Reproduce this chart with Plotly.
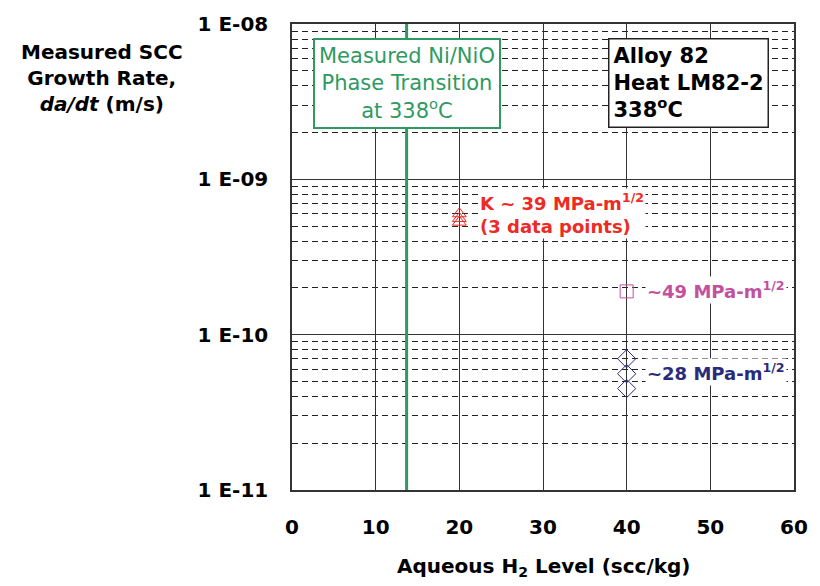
import plotly.graph_objects as go

# Data
k39_x = [20, 20, 20]
k39_y = [6.0e-10, 5.6e-10, 5.3e-10]
k49_x = [40]
k49_y = [1.9e-10]
k28_x = [40, 40, 40]
k28_y = [7.0e-11, 5.6e-11, 4.5e-11]
transition_h2 = 13.7
x_ticks = [0, 10, 20, 30, 40, 50, 60]
y_tickvals = [1e-11, 1e-10, 1e-9, 1e-8]
y_ticktext = ["1 E-11", "1 E-10", "1 E-09", "1 E-08"]

FONT = "DejaVu Sans"
RED = "#ee2a24"
MAG = "#c3509f"
NAVY = "#2a2a7c"
GREEN = "#2e9a62"

fig = go.Figure()
fig.add_trace(go.Scatter(x=k39_x, y=k39_y, mode="markers",
                         marker=dict(symbol="triangle-up-open", size=12, color=RED, line=dict(width=1))))
fig.add_trace(go.Scatter(x=k49_x, y=k49_y, mode="markers",
                         marker=dict(symbol="square-open", size=13, color=MAG, line=dict(width=1))))
fig.add_trace(go.Scatter(x=k28_x, y=k28_y, mode="markers",
                         marker=dict(symbol="diamond-open", size=14, color=NAVY, line=dict(width=1))))

fig.add_vline(x=transition_h2, line=dict(color=GREEN, width=3), layer="above")

minor_vals = [k * 10.0 ** e for e in range(-11, -8) for k in range(2, 10)]

fig.update_layout(
    width=820, height=586,
    margin=dict(l=292, r=20, t=19, b=96),
    plot_bgcolor="white", paper_bgcolor="white",
    showlegend=False,
    font=dict(family=FONT, color="black", size=20),
    xaxis=dict(range=[0, 60], tickvals=x_ticks, showgrid=True, gridcolor="#333333", gridwidth=1,
               showline=True, linecolor="#333333", linewidth=1.5, mirror=True, zeroline=False,
               tickfont=dict(size=20, weight="bold", family=FONT), ticks="", ticklen=0,
               ticklabelstandoff=18),
    yaxis=dict(type="log", range=[-11, -8], tickvals=y_tickvals, ticktext=y_ticktext,
               showgrid=True, gridcolor="#333333", gridwidth=1.2,
               showline=True, linecolor="#333333", linewidth=1.5, mirror=True, zeroline=False,
               tickfont=dict(size=20, weight="bold", family=FONT), ticks="", ticklen=0,
               ticklabelstandoff=18,
               minor=dict(tickvals=minor_vals, showgrid=True, griddash="6px,4px",
                          gridcolor="#222222", gridwidth=1, ticks="")),
)

fig.add_annotation(xref="paper", yref="paper", x=-0.378, y=0.97, xanchor="center", yanchor="top",
                   text="<b>Measured SCC<br>Growth Rate,<br><i>da/dt</i> (m/s)</b>", showarrow=False,
                   font=dict(size=20, family=FONT), align="center")
fig.add_annotation(xref="paper", yref="paper", x=0.5, y=-0.166, xanchor="center", yanchor="middle",
                   text="<b>Aqueous H<sub>2</sub> Level (scc/kg)</b>", showarrow=False,
                   font=dict(size=20, family=FONT))

fig.add_annotation(xref="x", yref="paper", x=13.8, y=0.97, xanchor="center", yanchor="top",
                   text="Measured Ni/NiO<br>Phase Transition<br>at 338<sup>o</sup>C", showarrow=False,
                   font=dict(size=21, family=FONT, color=GREEN), align="center",
                   bgcolor="white", bordercolor=GREEN, borderwidth=2, borderpad=4)
fig.add_annotation(xref="paper", yref="paper", x=0.95, y=0.97, xanchor="right", yanchor="top",
                   text="<b>Alloy 82<br>Heat LM82-2<br>338<sup>o</sup>C</b>", showarrow=False,
                   font=dict(size=21, family=FONT), align="left",
                   bgcolor="white", bordercolor="#222222", borderwidth=1.5, borderpad=4)

fig.add_annotation(xref="x", yref="y", x=22.2, y=-9.22, xanchor="left", yanchor="middle",
                   text="<b>K ~ 39 MPa-m<sup>1/2</sup><br>(3 data points)</b>", showarrow=False,
                   font=dict(size=18, family=FONT, color=RED), align="left", bgcolor="white")
fig.add_annotation(xref="x", yref="y", x=42.2, y=-9.71, xanchor="left", yanchor="middle",
                   text="<b>~49 MPa-m<sup>1/2</sup></b>", showarrow=False,
                   font=dict(size=18, family=FONT, color=MAG), align="left", bgcolor="white")
fig.add_annotation(xref="x", yref="y", x=42.2, y=-10.24, xanchor="left", yanchor="middle",
                   text="<b>~28 MPa-m<sup>1/2</sup></b>", showarrow=False,
                   font=dict(size=18, family=FONT, color=NAVY), align="left", bgcolor="white")

fig.write_html("out.html")
